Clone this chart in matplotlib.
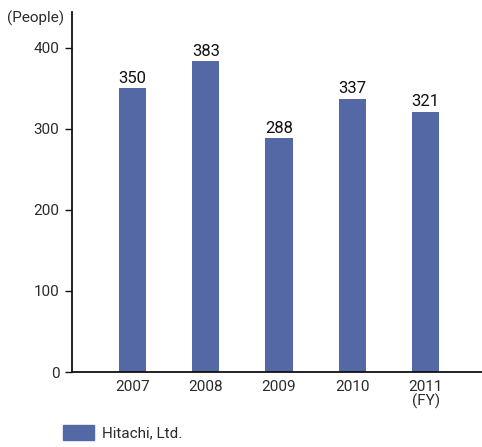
import matplotlib
matplotlib.use('Agg')
import matplotlib.pyplot as plt
from matplotlib.patches import Rectangle

plt.rcParams['font.family'] = ['Roboto', 'DejaVu Sans']

# data
years = ['2007', '2008', '2009', '2010', '2011\n(FY)']
people = [350, 383, 288, 337, 321]

bar_color = '#5468a6'
text_color = '#2b2b2b'
fs = 11

fig = plt.figure(figsize=(4.82, 4.47), dpi=100)
ax = fig.add_axes([72 / 482, 1 - 372 / 447, 410 / 482, 360 / 447])

x = range(len(years))
ax.bar(x, people, width=0.37, color=bar_color, zorder=2)

for xi, v in zip(x, people):
    ax.text(xi, v + 3, str(v), ha='center', va='bottom', fontsize=12,
            color='#111111')

ax.set_xlim(-0.826, 4.77)
ax.set_ylim(0, 444)
ax.set_yticks([0, 100, 200, 300, 400])
ax.set_xticks(list(x))
ax.set_xticklabels(years, linespacing=0.95)

for s in ['top', 'right']:
    ax.spines[s].set_visible(False)
for s in ['left', 'bottom']:
    ax.spines[s].set_linewidth(1.3)
    ax.spines[s].set_color('#111111')

ax.tick_params(axis='x', length=0, pad=6, labelsize=fs, colors=text_color)
ax.tick_params(axis='y', length=5, width=1, pad=4, labelsize=fs,
               colors='#111111', labelcolor=text_color)

fig.text(64 / 482, 1 - 18 / 447, '(People)', fontsize=fs, color=text_color,
         ha='right', va='center')

# legend
fig.add_artist(Rectangle((63 / 482, 1 - 440 / 447), 31 / 482, 15 / 447,
                         transform=fig.transFigure, color=bar_color))
fig.text(102 / 482, 1 - 433 / 447, 'Hitachi, Ltd.', fontsize=fs,
         color=text_color, ha='left', va='center')

fig.savefig('out.png', dpi=100)
